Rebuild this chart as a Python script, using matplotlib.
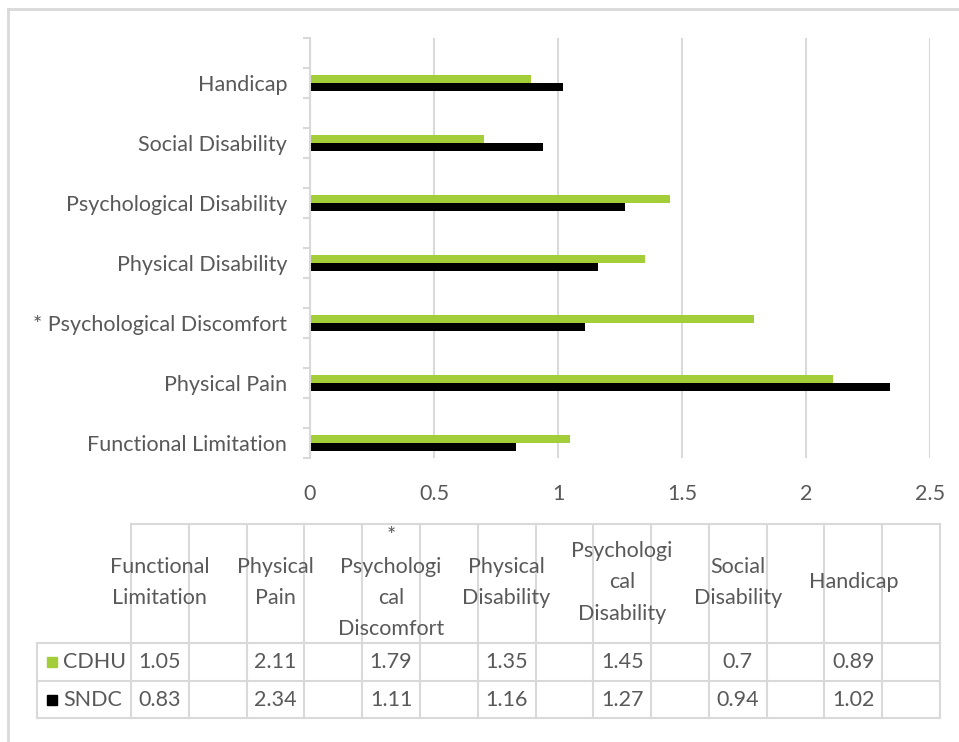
import matplotlib.pyplot as plt
from matplotlib.patches import Rectangle
import numpy as np

plt.rcParams['font.family'] = ['Lato', 'DejaVu Sans']

categories = ['Functional Limitation', 'Physical Pain', '* Psychological Discomfort',
              'Physical Disability', 'Psychological Disability', 'Social Disability', 'Handicap']
table_headers = ['Functional\nLimitation', 'Physical\nPain', '*\nPsychologi\ncal\nDiscomfort',
                 'Physical\nDisability', 'Psychologi\ncal\nDisability', 'Social\nDisability', 'Handicap']
cdhu = [1.05, 2.11, 1.79, 1.35, 1.45, 0.7, 0.89]
sndc = [0.83, 2.34, 1.11, 1.16, 1.27, 0.94, 1.02]
series_names = ['CDHU', 'SNDC']
x_ticks = [0, 0.5, 1, 1.5, 2, 2.5]

green = '#A3CE39'
black = '#000000'
grey_line = '#D9D9D9'
text_grey = '#595959'
fs = 15.5

W, H = 959, 742
fig = plt.figure(figsize=(W / 100, H / 100), dpi=100)

# each category is followed by an empty slot, so 14 rows in total
n = len(categories)
pos = np.arange(n) * 2
bar_h = 0.26

ax = fig.add_axes([310 / W, 1 - 458 / H, 620 / W, 420 / H])
ax.barh(pos + bar_h / 2, cdhu, height=bar_h, color=green, zorder=3)
ax.barh(pos - bar_h / 2, sndc, height=bar_h, color=black, zorder=3)

ax.set_xlim(0, 2.5)
ax.set_ylim(-0.5, 2 * n - 0.5)
ax.set_xticks(x_ticks)
ax.set_xticklabels([f'{t:g}' for t in x_ticks], fontsize=fs, color=text_grey)
ax.set_yticks(pos)
ax.set_yticklabels(categories, fontsize=fs, color=text_grey)
ax.set_yticks(np.arange(-0.5, 2 * n, 1), minor=True)
ax.tick_params(axis='y', which='major', length=0, pad=16.5)
ax.tick_params(axis='y', which='minor', length=5, width=1.5, color=grey_line)
ax.tick_params(axis='x', length=0, pad=19)
ax.xaxis.grid(True, color=grey_line, linewidth=1.5, zorder=0)
for side in ['top', 'right', 'bottom']:
    ax.spines[side].set_visible(False)
ax.spines['left'].set_color(grey_line)
ax.spines['left'].set_linewidth(1.5)
ax.spines['left'].set_zorder(4)

# data table drawn in pixel coordinates on an overlay
tab = fig.add_axes([0, 0, 1, 1])
tab.set_xlim(0, W)
tab.set_ylim(H, 0)
tab.axis('off')

lw = 1.5
tab.plot([8, W], [9, 9], color=grey_line, lw=2)
tab.plot([8, 8], [9, H], color=grey_line, lw=2)

x0, x1 = 131, 940
col_w = (x1 - x0) / (2 * n)
label_x = 37
y_top, y_head, y_r1, y_r2 = 524, 643, 681, 718
col_edges = x0 + np.arange(2 * n + 1) * col_w

tab.plot([x0, x1], [y_top, y_top], color=grey_line, lw=lw)
for yy in [y_head, y_r1, y_r2]:
    tab.plot([label_x, x1], [yy, yy], color=grey_line, lw=lw)
for xe in col_edges:
    tab.plot([xe, xe], [y_top, y_r2], color=grey_line, lw=lw)
tab.plot([label_x, label_x], [y_head, y_r2], color=grey_line, lw=lw)

for i in range(n):
    cx = col_edges[2 * i] + col_w / 2
    tab.text(cx, (y_top + y_head) / 2 - 1, table_headers[i], ha='center', va='center',
             fontsize=fs, color=text_grey, linespacing=1.7)
    tab.text(cx, (y_head + y_r1) / 2, f'{cdhu[i]:g}', ha='center', va='center',
             fontsize=fs, color=text_grey)
    tab.text(cx, (y_r1 + y_r2) / 2, f'{sndc[i]:g}', ha='center', va='center',
             fontsize=fs, color=text_grey)

for name, color, (ya, yb) in zip(series_names, [green, black], [(y_head, y_r1), (y_r1, y_r2)]):
    yc = (ya + yb) / 2
    tab.add_patch(Rectangle((47, yc - 5), 10, 10, color=color))
    tab.text(63, yc, name, ha='left', va='center', fontsize=fs, color=text_grey)

plt.savefig('out.png', dpi=100)
